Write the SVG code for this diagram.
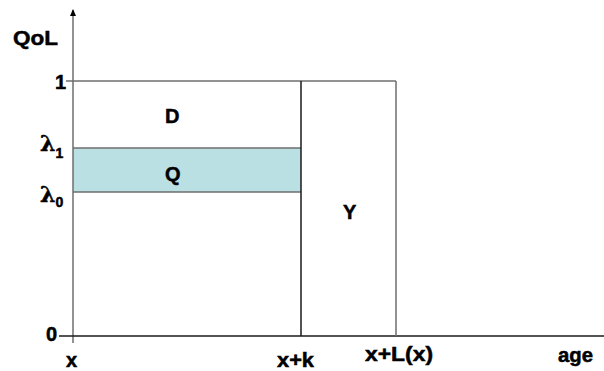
<svg xmlns="http://www.w3.org/2000/svg" width="604" height="371" viewBox="0 0 604 371">
<style>
  text { font-family: "Liberation Sans", Arial, sans-serif; font-weight: bold; font-size: 20px; fill: #000; stroke: #000; stroke-width: 0.5; }
  .sym { font-family: "DejaVu Serif", "Liberation Serif", serif; font-weight: bold; font-size: 22px; }
  .sub { font-family: "Liberation Sans", Arial, sans-serif; font-size: 14px; }
  .ln { stroke: #1a1a1a; stroke-width: 1.5; fill: none; }
  .gr { stroke: #6e6e6e; stroke-width: 1.5; fill: none; }
</style>
<defs>
  <marker id="arr" viewBox="0 0 7 6" refX="6" refY="3" markerWidth="7" markerHeight="6" markerUnits="userSpaceOnUse" orient="auto">
    <path d="M0,0 L7,3 L0,6 Z" fill="#000"/>
  </marker>
</defs>
<g id="regions">
  <rect id="Q-band" x="73" y="148" width="228" height="44" fill="#BBE0E3"/>
</g>
<g id="connectors">
  <line class="gr" x1="73" y1="343" x2="73" y2="10" stroke="#8a8a8a" marker-end="url(#arr)"/>
  <line class="ln" x1="59" y1="336" x2="604" y2="336"/>
  <line class="gr" x1="66" y1="81" x2="396" y2="81"/>
  <line class="gr" x1="73" y1="148" x2="301" y2="148" stroke="#555" stroke-width="2"/>
  <line class="gr" x1="73" y1="192" x2="301" y2="192" stroke="#333" stroke-width="1.5"/>
  <line class="ln" x1="301" y1="81" x2="301" y2="336" stroke="#000"/>
  <line class="gr" x1="396" y1="81" x2="396" y2="336"/>
</g>
<g id="labels">
  <text x="13" y="45" textLength="45" lengthAdjust="spacingAndGlyphs">QoL</text>
  <text x="55" y="89">1</text>
  <text x="165" y="123">D</text>
  <text x="165" y="181">Q</text>
  <text x="343" y="219">Y</text>
  <text class="sym" x="40" y="151">λ<tspan class="sub" dy="7">1</tspan></text>
  <text class="sym" x="40" y="202">λ<tspan class="sub" dy="5">0</tspan></text>
  <text x="46" y="341">0</text>
  <text x="66" y="367">x</text>
  <text x="277" y="367" textLength="37" lengthAdjust="spacingAndGlyphs">x+k</text>
  <text x="365" y="361" textLength="68" lengthAdjust="spacingAndGlyphs">x+L(x)</text>
  <text x="558" y="362" textLength="35" lengthAdjust="spacingAndGlyphs">age</text>
</g>
</svg>
